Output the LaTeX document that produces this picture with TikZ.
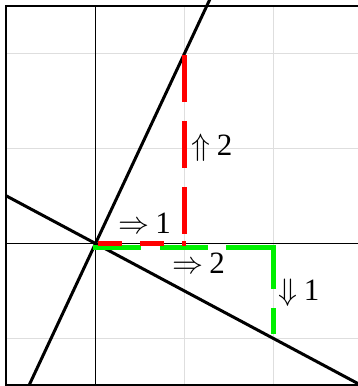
\documentclass[tikz,border=0pt]{standalone}
\usepackage{fix-cm}
\usepackage{fontspec}
\setmainfont{Liberation Serif}
\definecolor{gridgray}{HTML}{DEDEDE}
\definecolor{pred}{HTML}{FF0000}
\definecolor{pgreen}{HTML}{00F000}
\begin{document}
\begin{tikzpicture}[x=89pt,y=95pt,
  gridline/.style={draw=gridgray,line width=1.3pt},
  frameline/.style={draw=black,line width=2pt},
  axisline/.style={draw=black,line width=1.6pt},
  curveline/.style={draw=black,line width=3pt},
  redpath/.style={draw=pred,line width=5.5pt},
  greenpath/.style={draw=pgreen,line width=5.5pt},
  lbl/.style={anchor=base west,inner sep=0pt,font=\fontsize{31}{37}\selectfont}]
\useasboundingbox (-1.073,-1.5) rectangle (2.949,2.563);
\clip (-1.073,-1.5) rectangle (2.949,2.563);
% grid
\draw[gridline] (1,-1.6) -- (1,2.495);
\draw[gridline] (2,-1.6) -- (2,2.495);
\draw[gridline] (-1,2) -- (3.2,2);
\draw[gridline] (-1,1) -- (3.2,1);
\draw[gridline] (-1,-1) -- (3.2,-1);
% frame
\draw[frameline] (3.2,2.495) -- (-1,2.495) -- (-1,-1.489) -- (3.2,-1.489);
% axes
\draw[axisline] (-1,0) -- (3.2,0);
\draw[axisline] (0,-1.5) -- (0,2.495);
% points
\coordinate (O) at (0,0);
\coordinate (A) at (1,2);
\coordinate (B) at (1,0);
\coordinate (Bx) at (1.02,0);
\coordinate (G0) at (-0.028,-0.042);
\coordinate (G1) at (2.02,-0.042);
\coordinate (G2) at (2,-0.016);
\coordinate (G3) at (2,-0.953);
% lines
\coordinate (L1a) at (-0.75,-1.5);
\coordinate (L1b) at (1.3,2.6);
\coordinate (L2a) at (-1,0.5);
\coordinate (L2b) at (3.1,-1.55);
\draw[curveline] (L1a) -- (L1b);
\draw[curveline] (L2a) -- (L2b);
% green dashed path
\draw[greenpath,dash pattern=on 48pt off 18.5pt] (G0) -- (G1);
\draw[greenpath,dash pattern=on 44pt off 19pt] (G2) -- (G3);
% red dashed path
\draw[redpath,dash pattern=on 24pt off 18pt,dash phase=39.5pt] (O) -- (Bx);
\draw[redpath,dash pattern=on 47pt off 19pt,dash phase=64pt] (A) -- (B);
% labels
\node[lbl] (l1) at (0.253,0.1) {$\Rightarrow$\hspace{0.2em}1};
\node[lbl] (l2) at (1.079,0.921) {$\Uparrow$\hspace{0.2em}2};
\node[lbl] (l3) at (0.86,-0.311) {$\Rightarrow$\hspace{0.2em}2};
\node[lbl] (l4) at (2.056,-0.595) {$\Downarrow$\hspace{0.2em}1};
\end{tikzpicture}
\end{document}
